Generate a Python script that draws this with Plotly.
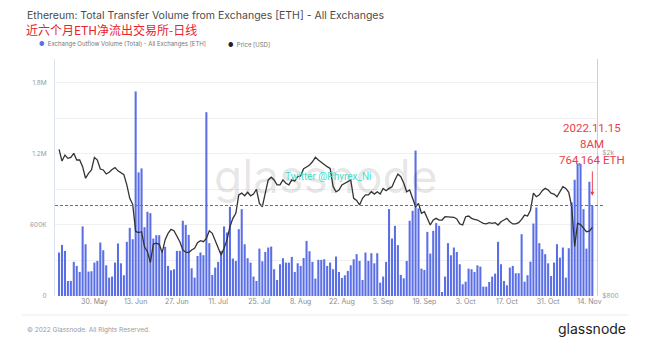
import math
import pandas as pd
import plotly.graph_objects as go

# ---------------- data ----------------
start_date = "2022-05-18"

# Exchange outflow volume, thousands of ETH, one value per day
outflow_k = [
    367, 431, 381, 127, 127, 288, 254, 203, 587, 437,
    206, 209, 282, 296, 451, 386, 259, 155, 164, 282,
    443, 276, 175, 457, 575, 479, 1726, 1043, 1077, 581,
    711, 699, 485, 513, 513, 372, 415, 254, 217, 226,
    381, 381, 635, 600, 516, 234, 155, 338, 367, 344,
    1551, 446, 178, 240, 288, 381, 587, 536, 753, 316,
    296, 564, 733, 437, 319, 282, 164, 127, 400, 293,
    372, 409, 417, 226, 135, 268, 319, 282, 282, 330,
    203, 276, 254, 321, 465, 378, 288, 147, 305, 305,
    310, 254, 282, 226, 333, 203, 152, 175, 212, 259,
    310, 353, 296, 135, 367, 296, 361, 276, 361, 113,
    164, 288, 733, 485, 592, 429, 178, 149, 296, 635,
    719, 1227, 739, 231, 220, 541, 358, 550, 615, 592,
    34, 164, 446, 344, 409, 372, 268, 99, 121, 231,
    226, 203, 259, 248, 79, 79, 118, 164, 189, 457,
    268, 127, 90, 240, 254, 192, 192, 522, 121, 175,
    290, 612, 747, 446, 395, 353, 276, 169, 282, 437,
    324, 409, 155, 403, 790, 981, 1120, 1114, 733, 400,
    964, 764.164,
]

# ETH price, USD
price_usd = [
    2048, 1900, 1975, 1934, 1946, 1997, 1913, 1913, 1833, 1702,
    1756, 1795, 1946, 1913, 1806, 1795, 1749, 1768, 1800, 1822,
    1785, 1768, 1742, 1631, 1497, 1440, 1210, 1201, 1208, 1097,
    1063, 991, 1116, 1122, 1114, 1057, 1146, 1196, 1226, 1216,
    1175, 1133, 1075, 1060, 1057, 1075, 1086, 1126, 1141, 1133,
    1158, 1215, 1196, 1146, 1086, 1041, 1086, 1146, 1247, 1316,
    1360, 1530, 1547, 1521, 1555, 1521, 1538, 1586, 1449, 1418,
    1547, 1684, 1713, 1684, 1631, 1631, 1684, 1648, 1631, 1684,
    1672, 1719, 1726, 1809, 1830, 1852, 1892, 1946, 1913, 1885,
    1852, 1833, 1813, 1617, 1561, 1578, 1631, 1648, 1665, 1684,
    1497, 1477, 1434, 1497, 1530, 1530, 1561, 1538, 1561, 1538,
    1595, 1571, 1595, 1612, 1684, 1749, 1719, 1648, 1561, 1578,
    1497, 1418, 1449, 1360, 1374, 1308, 1261, 1302, 1316, 1302,
    1302, 1330, 1330, 1330, 1325, 1311, 1270, 1261, 1330, 1336,
    1316, 1308, 1302, 1288, 1275, 1270, 1280, 1275, 1280, 1261,
    1288, 1302, 1316, 1288, 1270, 1270, 1280, 1308, 1344, 1336,
    1387, 1547, 1512, 1530, 1571, 1595, 1578, 1547, 1538, 1512,
    1561, 1612, 1595, 1555, 1418, 1100, 1275, 1265, 1236, 1208,
    1212, 1243,
]

tick_dates = ["2022-05-30", "2022-06-13", "2022-06-27", "2022-07-11", "2022-07-25",
              "2022-08-08", "2022-08-22", "2022-09-05", "2022-09-19", "2022-10-03",
              "2022-10-17", "2022-10-31", "2022-11-14"]
tick_labels = ["30. May", "13. Jun", "27. Jun", "11. Jul", "25. Jul", "8. Aug", "22. Aug",
               "5. Sep", "19. Sep", "3. Oct", "17. Oct", "31. Oct", "14. Nov"]

left_tick_vals = [0, 600000, 1200000, 1800000]
left_tick_text = ["0", "600K", "1.2M", "1.8M"]
left_minor_vals = [300000, 900000, 1500000]
right_tick_vals = [800, 2000]
right_tick_text = ["$800", "$2k"]

marker_value = 764164
marker_date = "2022-11-15"

# ---------------- figure ----------------
dates = pd.date_range(start_date, periods=len(outflow_k), freq="D")
outflow = [v * 1000 for v in outflow_k]

BAR = "#5a6ee6"
PAGE_OFF = 8            # default body margin of the html page
L, T, PW, PH = 55, 59, 542, 237   # plot area in window pixels
FW, FH = 660 - PAGE_OFF, 364 - PAGE_OFF


def px_x(X):
    return (X - L) / PW


def px_y(Y):
    return (T + PH - Y) / PH


fig = go.Figure()
fig.add_bar(x=dates, y=outflow, marker=dict(color=BAR, line=dict(width=0)),
            width=0.7 * 86400000, yaxis="y", name="Exchange Outflow Volume")
fig.add_scatter(x=dates, y=price_usd, mode="lines", line=dict(color="#333333", width=1.3),
                yaxis="y2", name="Price [USD]")

fig.update_layout(
    width=FW, height=FH,
    margin=dict(l=L - PAGE_OFF, r=FW - (L - PAGE_OFF) - PW, t=T - PAGE_OFF,
                b=FH - (T - PAGE_OFF) - PH, autoexpand=False),
    paper_bgcolor="white", plot_bgcolor="white",
    showlegend=False,
    font=dict(family="Inter, Roboto, sans-serif"),
    xaxis=dict(type="date", range=["2022-05-16 15:00", "2022-11-16 14:00"],
               tickvals=tick_dates, ticktext=tick_labels,
               tickfont=dict(size=7, color="#8a8a8a"), showgrid=False,
               zeroline=False, showline=False, ticks=""),
    yaxis=dict(range=[0, 2.0e6], tickvals=left_tick_vals, ticktext=left_tick_text,
               tickfont=dict(size=6.5, color="#9a9a9a"), gridcolor="#f0f0f0",
               minor=dict(tickvals=left_minor_vals, showgrid=True, gridcolor="#f0f0f0"),
               zeroline=False, showline=True, linecolor="#dde2f0", ticks="",
               ticklabelstandoff=6),
    yaxis2=dict(overlaying="y", side="right", type="log",
                range=[math.log10(800), 3.563], tickvals=right_tick_vals,
                ticktext=right_tick_text, tickfont=dict(size=6.5, color="#9a9a9a"),
                showgrid=False, zeroline=False, showline=True, linecolor="#d0d0d0",
                ticks="", ticklabelstandoff=3),
    bargap=0.3,
)

# red dashed reference line at the marked value
fig.add_shape(type="line", xref="paper", yref="y", x0=0, x1=px_x(603),
              y0=marker_value, y1=marker_value,
              line=dict(color="#f03a3a", width=1.1, dash="3px,2px"))
# footer separator
fig.add_shape(type="line", xref="paper", yref="paper", x0=px_x(22), x1=px_x(628),
              y0=px_y(315), y1=px_y(315), line=dict(color="#ececec", width=1))

ann = []
# watermark
ann.append(dict(text="glassnode", x=px_x(326), y=px_y(176), xref="paper", yref="paper",
                xanchor="center", yanchor="middle",
                showarrow=False, font=dict(size=46, color="rgba(0,0,0,0.10)",
                                           family="Inter, sans-serif")))
ann.append(dict(text="Twitter @Phyrex_Ni", x=px_x(328), y=px_y(176), xref="paper",
                yref="paper", xanchor="center", yanchor="middle", showarrow=False,
                font=dict(size=10, color="#45dcc8", family="Roboto, sans-serif")))
# titles
ann.append(dict(text="Ethereum: Total Transfer Volume from Exchanges [ETH] - All Exchanges",
                x=px_x(25), y=px_y(15), xref="paper", yref="paper", xanchor="left",
                yanchor="middle", showarrow=False,
                font=dict(size=10.5, color="#4a4a4a", family="Inter, sans-serif")))
ann.append(dict(text="近六个月ETH净流出交易所-日线", x=px_x(24), y=px_y(30), xref="paper",
                yref="paper", xanchor="left", yanchor="middle", showarrow=False,
                font=dict(size=12, color="#e8232b", family="Noto Sans CJK SC")))
# legend
ann.append(dict(text=f"<span style='color:{BAR}'>●</span>  Exchange Outflow Volume (Total) - All Exchanges [ETH]",
                x=px_x(37), y=px_y(44), xref="paper", yref="paper", xanchor="left",
                yanchor="middle", showarrow=False,
                font=dict(size=6, color="#777777", family="Inter, sans-serif")))
ann.append(dict(text="<span style='color:#222'>●</span>  Price [USD]",
                x=px_x(226), y=px_y(44), xref="paper", yref="paper", xanchor="left",
                yanchor="middle", showarrow=False,
                font=dict(size=6, color="#777777", family="Inter, sans-serif")))
# red notes
for txt, yy in [("2022.11.15", 128), ("8AM", 144), ("764,164 ETH", 160)]:
    ann.append(dict(text=txt, x=px_x(592), y=px_y(yy), xref="paper", yref="paper",
                    xanchor="center", yanchor="middle", showarrow=False,
                    font=dict(size=11.5, color="#e8404a", family="Roboto, sans-serif")))
ann.append(dict(text="", x=marker_date, y=845000, xref="x", yref="y", showarrow=True,
                ax=0, ay=-26, arrowhead=2, arrowsize=0.8, arrowwidth=1,
                arrowcolor="#e8404a"))
# footer
ann.append(dict(text="© 2022 Glassnode. All Rights Reserved.", x=px_x(25), y=px_y(330),
                xref="paper", yref="paper", xanchor="left", yanchor="middle",
                showarrow=False, font=dict(size=6.5, color="#9a9a9a")))
ann.append(dict(text="glassnode", x=px_x(628), y=px_y(328), xref="paper", yref="paper",
                xanchor="right", yanchor="middle", showarrow=False,
                font=dict(size=14, color="#222222", family="Inter, sans-serif")))
fig.update_layout(annotations=ann)

fig.write_html("out.html")
